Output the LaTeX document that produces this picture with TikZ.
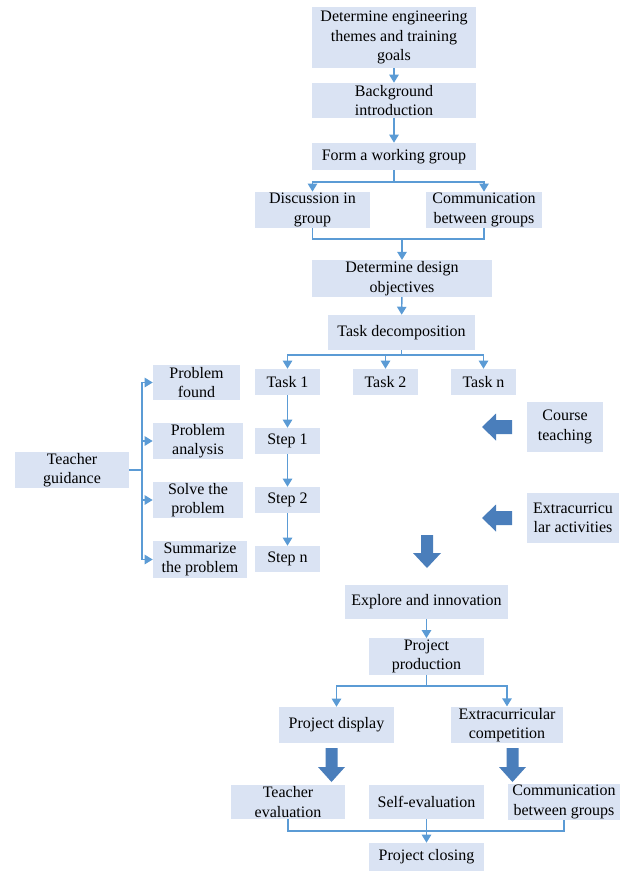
\documentclass[tikz,border=0pt]{standalone}
\usepackage{fontspec}
\setmainfont{Liberation Serif}
\usetikzlibrary{arrows.meta}

\definecolor{boxfill}{HTML}{DAE3F3}
\definecolor{linecol}{HTML}{5B9BD5}
\definecolor{blockcol}{HTML}{4A7EBB}

\tikzset{
  box/.style={fill=boxfill, align=center, inner sep=1pt, font=\fontsize{12}{14.6}\selectfont},
  boxsize/.style 2 args={minimum width=#1*0.75pt, minimum height=#2*0.75pt},
  plain/.style={draw=linecol, line width=1.1pt},
  line/.style={plain, -{Triangle[length=6pt,width=7pt]}},
  blk/.style={fill=blockcol}
}

\begin{document}
\begin{tikzpicture}[x=0.75pt, y=-0.75pt]
\useasboundingbox (0,0) rectangle (627,872);

% main column
\node [box, boxsize={164}{61}] (goals) at (394,37.5) {Determine engineering\\themes and training\\goals};
\node [box, boxsize={164}{35}] (intro) at (394,100.5) {Background\\introduction};
\node [box, boxsize={164}{27}] (form) at (394,156.5) {Form a working group};
\node [box, boxsize={115}{34}] (discuss) at (312.5,210) {Discussion in\\group};
\node [box, boxsize={116}{34}] (commA) at (484,210) {Communication\\between groups};
\node [box, boxsize={180}{35}] (objectives) at (402,278.5) {Determine design\\objectives};
\node [box, boxsize={147}{35}] (decomp) at (401.5,332.5) {Task decomposition};

% tasks and steps
\node [box, boxsize={65}{26}] (task1) at (287.5,382) {Task 1};
\node [box, boxsize={65}{26}] (task2) at (385.5,382) {Task 2};
\node [box, boxsize={65}{26}] (taskn) at (483.5,382) {Task n};
\node [box, boxsize={65}{26}] (step1) at (287.5,441) {Step 1};
\node [box, boxsize={65}{26}] (step2) at (287.5,500) {Step 2};
\node [box, boxsize={65}{26}] (stepn) at (287.5,559) {Step n};

% teacher side
\node [box, boxsize={114}{34}] (guide) at (72,470) {Teacher\\guidance};
\node [box, boxsize={87}{35}] (found) at (196.5,382.5) {Problem\\found};
\node [box, boxsize={90}{34}] (analysis) at (198,441) {Problem\\analysis};
\node [box, boxsize={90}{34}] (solve) at (198,500) {Solve the\\problem};
\node [box, boxsize={94}{35}] (summ) at (200,559.5) {Summarize\\the problem};

% right side
\node [box, boxsize={76}{50}] (course) at (565,427) {Course\\teaching};
\node [box, boxsize={92}{50}] (extra) at (573,518) {Extracurricu\\lar activities};

% lower part
\node [box, boxsize={163}{34}] (explore) at (426.5,602) {Explore and innovation};
\node [box, boxsize={115}{35}] (production) at (426.5,656.5) {Project\\production};
\node [box, boxsize={115}{36}] (display) at (336.5,725) {Project display};
\node [box, boxsize={112}{36}] (compet) at (507,725) {Extracurricular\\competition};
\node [box, boxsize={114}{34}] (teval) at (288,802) {Teacher\\evaluation};
\node [box, boxsize={115}{34}] (seval) at (426.5,802) {Self-evaluation};
\node [box, boxsize={112}{34}] (commB) at (564,802) {Communication\\between groups};
\node [box, boxsize={115}{28}] (closing) at (426.5,857) {Project closing};

\coordinate (split1) at (394,182);
\coordinate (join1) at (402,239);
\coordinate (split2) at (401.5,355);
\coordinate (tbus) at (142,470);
\coordinate (split3) at (426.5,686);
\coordinate (join2) at (426.5,831);

\draw [line] (goals) -- (intro);
\draw [line] (intro) -- (form);
\draw [plain] (form) -- (split1);
\draw [line] (split1) -| (discuss);
\draw [line] (split1) -| (commA);
\draw [plain] (discuss) |- (join1) -| (commA);
\draw [line] (join1) -- (objectives);
\draw [line] (objectives) -- (decomp);
\draw [plain] (decomp) -- (split2);
\draw [line] (split2) -| (task1);
\draw [line] (split2) -| (task2);
\draw [line] (split2) -| (taskn);
\draw [line] (task1) -- (step1);
\draw [line] (step1) -- (step2);
\draw [line] (step2) -- (stepn);

\draw [plain] (guide) -- (tbus);
\draw [line] (tbus) |- (found);
\draw [line] (tbus) |- (analysis);
\draw [line] (tbus) |- (solve);
\draw [line] (tbus) |- (summ);

\draw [line] (explore) -- (production);
\draw [plain] (production) -- (split3);
\draw [line] (split3) -| (display);
\draw [line] (split3) -| (compet);
\draw [plain] (teval) |- (join2) -| (commB);
\draw [line] (seval) -- (closing);

% block arrows
\fill [blk] (482,427) -- (496,413.5) -- (496,420) -- (512,420) -- (512,434) -- (496,434) -- (496,440.5) -- cycle;
\fill [blk] (482,518) -- (496,504.5) -- (496,511) -- (512,511) -- (512,525) -- (496,525) -- (496,531.5) -- cycle;
\fill [blk] (427,568) -- (413,553) -- (421,553) -- (421,535) -- (433,535) -- (433,553) -- (441,553) -- cycle;
\fill [blk] (331.5,782) -- (318,767) -- (325.5,767) -- (325.5,748) -- (337.5,748) -- (337.5,767) -- (345,767) -- cycle;
\fill [blk] (512.5,782) -- (499,767) -- (506.5,767) -- (506.5,748) -- (518.5,748) -- (518.5,767) -- (526,767) -- cycle;

\end{tikzpicture}
\end{document}
